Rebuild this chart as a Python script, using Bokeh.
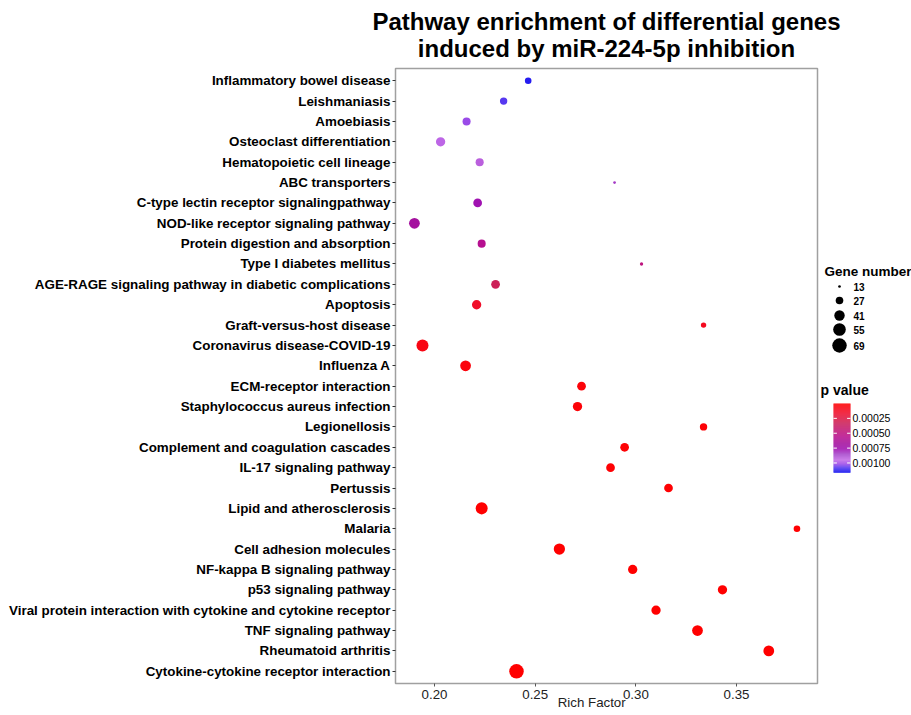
import numpy as np
from bokeh.plotting import figure
from bokeh.models import (ColumnDataSource, Range1d, FixedTicker, LinearColorMapper,
                          PrintfTickFormatter)
from bokeh.transform import transform
from bokeh.layouts import row, column
from bokeh.core.properties import value
from bokeh.embed import file_html
from bokeh.resources import INLINE

# ---------------- data (top row first) ----------------
pathways = [
    "Inflammatory bowel disease",
    "Leishmaniasis",
    "Amoebiasis",
    "Osteoclast differentiation",
    "Hematopoietic cell lineage",
    "ABC transporters",
    "C-type lectin receptor signalingpathway",
    "NOD-like receptor signaling pathway",
    "Protein digestion and absorption",
    "Type I diabetes mellitus",
    "AGE-RAGE signaling pathway in diabetic complications",
    "Apoptosis",
    "Graft-versus-host disease",
    "Coronavirus disease-COVID-19",
    "Influenza A",
    "ECM-receptor interaction",
    "Staphylococcus aureus infection",
    "Legionellosis",
    "Complement and coagulation cascades",
    "IL-17 signaling pathway",
    "Pertussis",
    "Lipid and atherosclerosis",
    "Malaria",
    "Cell adhesion molecules",
    "NF-kappa B signaling pathway",
    "p53 signaling pathway",
    "Viral protein interaction with cytokine and cytokine receptor",
    "TNF signaling pathway",
    "Rheumatoid arthritis",
    "Cytokine-cytokine receptor interaction",
]
rich_factor = [0.2465, 0.2343, 0.2159, 0.2030, 0.2224, 0.2894, 0.2214, 0.1900,
               0.2234, 0.3028, 0.2303, 0.2209, 0.3336, 0.1940, 0.2154, 0.2730,
               0.2710, 0.3336, 0.2944, 0.2874, 0.3162, 0.2234, 0.3800, 0.2620,
               0.2984, 0.3430, 0.3100, 0.3306, 0.3660, 0.2407]
gene_number = [23, 26, 29, 35, 29, 13, 32, 43, 29, 14, 32, 35, 19, 51, 43, 32,
               35, 26, 32, 32, 32, 51, 23, 46, 35, 35, 35, 43, 43, 69]
p_value = [0.001137, 0.001079, 0.001021, 0.000963, 0.000916, 0.000835, 0.000766,
           0.000673, 0.000568, 0.000487, 0.000325, 0.000151, 0.000116, 0.000070,
           0.000046, 0.000035, 0.000030, 0.000025, 0.000020, 0.000015, 0.000010,
           0.000008, 0.000005, 0.000003, 0.000002, 0.0000015, 0.000001,
           0.0000005, 0.0000003, 0.0000001]

x_ticks = [0.20, 0.25, 0.30, 0.35]
size_breaks = [13, 27, 41, 55, 69]
p_breaks = [0.00025, 0.00050, 0.00075, 0.00100]
p_break_labels = ["0.00025", "0.00050", "0.00075", "0.00100"]
title_lines = ["Pathway enrichment of differential genes",
               "induced by miR-224-5p inhibition"]

FONT = "Liberation Sans"
P_LOW, P_HIGH = 0.0, 0.00116

# colour gradient stops (fraction of p range, colour)
stops = [(0.00, "#FF0000"), (0.15, "#EE1030"), (0.28, "#CC2058"), (0.48, "#B8108E"),
         (0.58, "#A4109E"), (0.66, "#A010B0"), (0.74, "#A648CC"), (0.82, "#C46CE6"),
         (0.88, "#9D4CE8"), (0.93, "#5A3AF0"), (1.00, "#1010F0")]


def build_palette(n=256):
    fr = [s[0] for s in stops]
    cols = np.array([[int(s[1][i:i + 2], 16) for i in (1, 3, 5)] for s in stops], float)
    t = np.linspace(0, 1, n)
    rgb = np.stack([np.interp(t, fr, cols[:, k]) for k in range(3)], axis=1)
    return ["#%02x%02x%02x" % tuple(int(round(v)) for v in c) for c in rgb]


palette = build_palette()
mapper = LinearColorMapper(palette=palette, low=P_LOW, high=P_HIGH)


def dot_size(c):
    c = np.asarray(c, float)
    return np.sqrt(7.3 + (c - 13) / 56.0 * 202.7)


TOTAL_W = 911
TITLE_H = 64

# ---------------- title strip ----------------
tf = figure(width=TOTAL_W, height=TITLE_H, x_range=Range1d(0, TOTAL_W),
            y_range=Range1d(TITLE_H, 0), min_border=0, x_axis_location=None,
            y_axis_location=None, output_backend="svg", toolbar_location=None)
tf.grid.visible = False
tf.outline_line_color = None
tf.text(x=[606, 606], y=[21, 48], text=title_lines, text_font=value(FONT),
        text_font_style="bold", text_font_size="24px", text_align="center",
        text_baseline="middle", text_color="#000000")

# ---------------- main panel ----------------
n = len(pathways)
ypos = [n - i for i in range(n)]
src = ColumnDataSource(dict(x=rich_factor, y=ypos, p=p_value,
                            size=dot_size(gene_number), count=gene_number))

FW, FH = 422, 615
LB, TB, BB, RB = 395, 68 - TITLE_H, 31, 2
p = figure(frame_width=FW, frame_height=FH, min_border_left=LB, min_border_right=RB,
           min_border_top=TB, min_border_bottom=BB,
           x_range=Range1d(0.1806, 0.3902), y_range=Range1d(0.4, n + 0.6),
           output_backend="svg", toolbar_location=None)
p.grid.visible = False
p.outline_line_color = "#a0a0a0"
p.outline_line_width = 1.5

p.scatter("x", "y", size="size", source=src, fill_color=transform("p", mapper),
          line_color=None)

ya = p.yaxis[0]
ya.ticker = FixedTicker(ticks=ypos)
ya.major_label_overrides = {y: nm for y, nm in zip(ypos, pathways)}
ya.major_label_text_font = FONT
ya.major_label_text_font_style = "bold"
ya.major_label_text_font_size = "13.4px"
ya.major_label_text_color = "#000000"
ya.major_tick_in = 0
ya.major_tick_out = 3
ya.major_tick_line_color = "#333333"
ya.minor_tick_line_color = None
ya.axis_line_color = None
ya.major_label_standoff = 2

xa = p.xaxis[0]
xa.ticker = FixedTicker(ticks=x_ticks)
xa.formatter = PrintfTickFormatter(format="%.2f")
xa.major_label_text_font = FONT
xa.major_label_text_font_size = "13.3px"
xa.major_label_text_color = "#222222"
xa.major_tick_in = 0
xa.major_tick_out = 3
xa.major_tick_line_color = "#555555"
xa.minor_tick_line_color = None
xa.axis_line_color = None
xa.major_label_standoff = 3
xa.axis_label = "Rich Factor" + "\u00a0" * 8
xa.axis_label_text_font = FONT
xa.axis_label_text_font_style = "normal"
xa.axis_label_text_font_size = "13.3px"
xa.axis_label_text_color = "#222222"
xa.axis_label_standoff = -7

# ---------------- legend panel ----------------
# The legend strip's frame is aligned with the main frame by the row layout,
# so its y range spans the main frame's page rows (68..683).
LX0 = LB + FW + RB          # page x where the legend strip starts
LW, LH = TOTAL_W - LX0, TB + FH + BB
FRAME_TOP = TITLE_H + TB
FRAME_BOT = FRAME_TOP + FH
lg = figure(width=LW, height=LH, x_range=Range1d(LX0, TOTAL_W),
            y_range=Range1d(FRAME_BOT, FRAME_TOP), min_border=0,
            min_border_top=TB, min_border_bottom=BB,
            x_axis_location=None, y_axis_location=None,
            output_backend="svg", toolbar_location=None)
lg.grid.visible = False
lg.outline_line_color = None

lg.text(x=[824], y=[271], text=["Gene number"], text_font=value(FONT),
        text_font_style="bold", text_font_size="13.5px", text_baseline="middle",
        text_align="left", text_color="#000000")
leg_y = [286, 300, 315, 329, 345]
lg.scatter(x=[839] * len(size_breaks), y=leg_y, size=dot_size(size_breaks),
           fill_color="black", line_color=None)
lg.text(x=[853] * len(size_breaks), y=leg_y, text=[str(s) for s in size_breaks],
        text_font=value(FONT), text_font_style="bold", text_font_size="10px",
        text_baseline="middle", text_align="left", text_color="#000000")

lg.text(x=[820], y=[389], text=["p value"], text_font=value(FONT),
        text_font_style="bold", text_font_size="14px", text_baseline="middle",
        text_align="left", text_color="#000000")

CB_TOP, CB_H, CB_L, CB_R = 403, 69, 833, 850
nseg = 69
edges = np.linspace(P_LOW, P_HIGH, nseg + 1)
cb_src = ColumnDataSource(dict(
    top=CB_TOP + (edges[:-1] - P_LOW) / (P_HIGH - P_LOW) * CB_H,
    bottom=CB_TOP + (edges[1:] - P_LOW) / (P_HIGH - P_LOW) * CB_H + 0.3,
    p=(edges[:-1] + edges[1:]) / 2))
lg.quad(left=CB_L, right=CB_R, top="top", bottom="bottom", source=cb_src,
        fill_color=transform("p", mapper), line_color=None)
tick_y = [CB_TOP + (v - P_LOW) / (P_HIGH - P_LOW) * CB_H for v in p_breaks]
lg.segment(x0=[CB_L] * 4, x1=[CB_L + 3.4] * 4, y0=tick_y, y1=tick_y,
           line_color="white", line_width=1)
lg.segment(x0=[CB_R - 3.4] * 4, x1=[CB_R] * 4, y0=tick_y, y1=tick_y,
           line_color="white", line_width=1)
lg.text(x=[CB_R + 2] * 4, y=tick_y, text=p_break_labels, text_font=value(FONT),
        text_font_size="10.5px", text_baseline="middle", text_align="left",
        text_color="#000000")

layout = column(tf, row(p, lg))
open("out.html", "w").write(file_html(layout, INLINE))
